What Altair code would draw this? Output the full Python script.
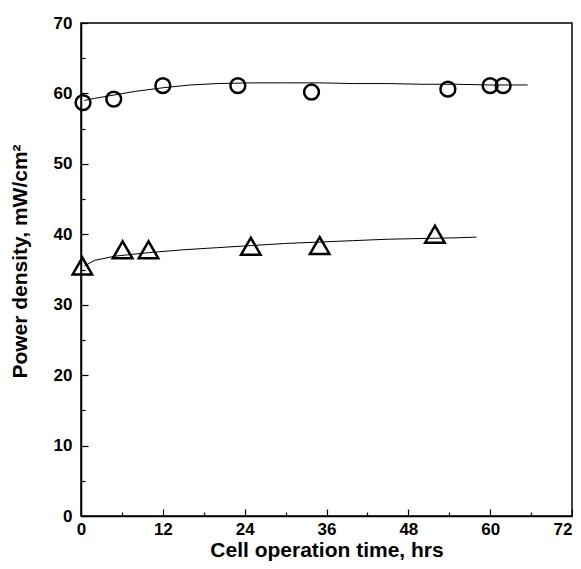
import altair as alt
import pandas as pd

# measured points
circ_x = [0.3, 4.8, 12.0, 23.0, 33.8, 53.8, 60.0, 61.9]
circ_y = [58.7, 59.2, 61.1, 61.1, 60.2, 60.6, 61.1, 61.1]
tri_x = [0.2, 6.1, 9.9, 24.9, 35.0, 51.9]
tri_y = [35.5, 37.8, 37.8, 38.3, 38.4, 40.0]

# fitted curves
cfit_x = [0.5, 2, 5, 8, 12, 16, 20, 25, 30, 35, 40, 45, 50, 55, 60, 65.5]
cfit_y = [59.0, 59.3, 59.8, 60.3, 60.8, 61.2, 61.4, 61.5, 61.5, 61.5, 61.4, 61.4, 61.3, 61.3, 61.2, 61.2]
tfit_x = [0.5, 2, 5, 10, 15, 20, 25, 30, 35, 40, 45, 50, 55, 58]
tfit_y = [35.5, 36.3, 36.9, 37.4, 37.8, 38.1, 38.4, 38.7, 38.9, 39.1, 39.3, 39.4, 39.5, 39.6]

x_major = [0, 12, 24, 36, 48, 60, 72]
x_minor = [6, 18, 30, 42, 54, 66]
y_major = [0, 10, 20, 30, 40, 50, 60, 70]
y_minor = [5, 15, 25, 35, 45, 55, 65]

pts_c = pd.DataFrame({"t": circ_x, "p": circ_y})
pts_t = pd.DataFrame({"t": tri_x, "p": tri_y})
fit_c = pd.DataFrame({"t": cfit_x, "p": cfit_y})
fit_t = pd.DataFrame({"t": tfit_x, "p": tfit_y})

xs = alt.Scale(domain=[0, 72], nice=False, zero=False)
ys = alt.Scale(domain=[0, 70], nice=False, zero=False)

FONT = "Liberation Sans"

x_main = alt.Axis(orient="bottom", values=x_major, ticks=False, domain=True,
                  domainColor="black", domainWidth=1.5, grid=False,
                  labelFont=FONT, labelFontSize=17, labelFontWeight="bold",
                  labelColor="black", labelPadding=5, labelFlush=False,
                  labelOverlap=False,
                  labelAlign=alt.expr("datum.value == 72 ? 'right' : 'center'"),
                  title="Cell operation time, hrs", titleFont=FONT,
                  titleFontSize=21, titleFontWeight="bold", titleColor="black",
                  titleY=40, titleBaseline="alphabetic", titleAlign="center")
y_main = alt.Axis(orient="left", values=y_major, ticks=False, domain=True,
                  domainColor="black", domainWidth=1.5, grid=False,
                  labelFont=FONT, labelFontSize=17, labelFontWeight="bold",
                  labelColor="black", labelPadding=9, labelFlush=False,
                  labelOverlap=False,
                  title="Power density, mW/cm²", titleFont=FONT,
                  titleFontSize=21, titleFontWeight="bold", titleColor="black",
                  titleAngle=-90, titleX=-61, titleY=238, titleAlign="center",
                  titleBaseline="middle")


def tick_axis(orient, vals, size):
    return alt.Axis(orient=orient, values=vals, offset=-size, tickSize=size,
                    tickColor="black", tickWidth=1.2, labels=False,
                    domain=False, grid=False, title=None)


circles = alt.Chart(pts_c).mark_point(
    shape="circle", size=220, filled=False, stroke="black",
    strokeWidth=2.5, opacity=1
).encode(
    x=alt.X("t:Q", scale=xs, axis=x_main),
    y=alt.Y("p:Q", scale=ys, axis=y_main),
)

triangles = alt.Chart(pts_t).mark_point(
    shape="triangle-up", size=380, filled=False, stroke="black",
    strokeWidth=2.5, opacity=1
).encode(
    x=alt.X("t:Q", scale=xs, axis=tick_axis("bottom", x_major, 7)),
    y=alt.Y("p:Q", scale=ys, axis=tick_axis("left", y_major, 7)),
)

curve_c = alt.Chart(fit_c).mark_line(color="black", strokeWidth=1).encode(
    x=alt.X("t:Q", scale=xs, axis=tick_axis("bottom", x_minor, 4)),
    y=alt.Y("p:Q", scale=ys, axis=tick_axis("left", y_minor, 4)),
)

curve_t = alt.Chart(fit_t).mark_line(color="black", strokeWidth=1).encode(
    x=alt.X("t:Q", scale=xs, axis=None),
    y=alt.Y("p:Q", scale=ys, axis=None),
)

chart = alt.layer(curve_c, curve_t, circles, triangles).resolve_axis(
    x="independent", y="independent"
).properties(
    width=491, height=493,
    autosize=alt.AutoSizeParams(type="none"),
    padding={"left": 73, "top": 15, "right": 1, "bottom": 45},
    background="white",
).configure_view(stroke="black", strokeWidth=1.5)

chart.save("out.html", embed_options={"renderer": "svg", "actions": False})
